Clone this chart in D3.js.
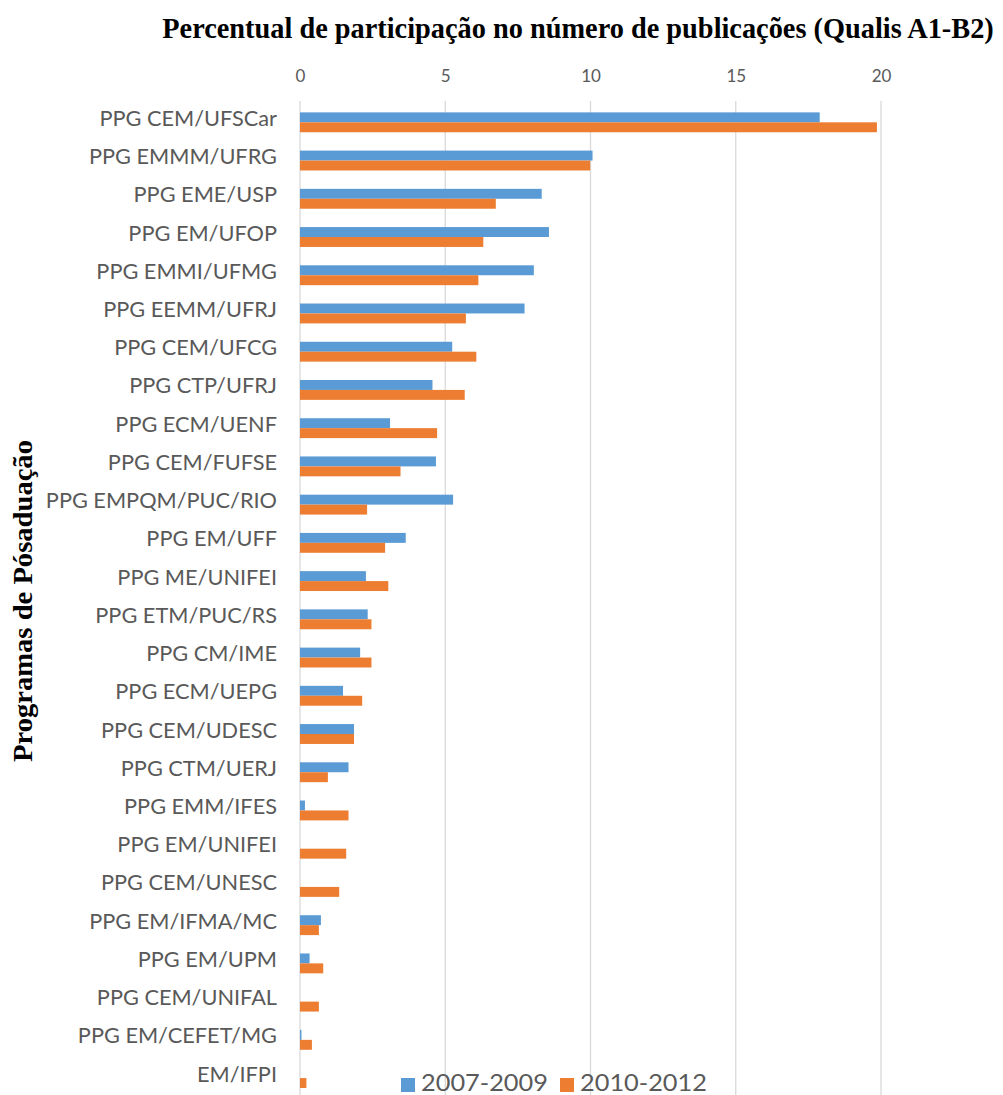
<!DOCTYPE html>
<html>
<head>
<meta charset="utf-8">
<script src="https://cdn.jsdelivr.net/npm/d3@7"></script>
<style>
  html, body { margin: 0; padding: 0; background: #ffffff; }
  svg { display: block; }
</style>
</head>
<body>
<script>
const categories = [
  "PPG CEM/UFSCar", "PPG EMMM/UFRG", "PPG EME/USP", "PPG EM/UFOP", "PPG EMMI/UFMG",
  "PPG EEMM/UFRJ", "PPG CEM/UFCG", "PPG CTP/UFRJ", "PPG ECM/UENF", "PPG CEM/FUFSE",
  "PPG EMPQM/PUC/RIO", "PPG EM/UFF", "PPG ME/UNIFEI", "PPG ETM/PUC/RS", "PPG CM/IME",
  "PPG ECM/UEPG", "PPG CEM/UDESC", "PPG CTM/UERJ", "PPG EMM/IFES", "PPG EM/UNIFEI",
  "PPG CEM/UNESC", "PPG EM/IFMA/MC", "PPG EM/UPM", "PPG CEM/UNIFAL", "PPG EM/CEFET/MG",
  "EM/IFPI"
];
const series2007_2009 = [
  17.89, 10.07, 8.32, 8.57, 8.05,
  7.73, 5.24, 4.56, 3.10, 4.68,
  5.27, 3.64, 2.27, 2.33, 2.07,
  1.48, 1.86, 1.67, 0.17, 0,
  0, 0.72, 0.33, 0, 0.05,
  0
];
const series2010_2012 = [
  19.86, 9.99, 6.74, 6.31, 6.14,
  5.71, 6.07, 5.67, 4.72, 3.46,
  2.31, 2.93, 3.04, 2.46, 2.46,
  2.14, 1.86, 0.96, 1.67, 1.59,
  1.35, 0.65, 0.80, 0.65, 0.41,
  0.22
];
const seriesNames = ["2007-2009", "2010-2012"];
const xTicks = [0, 5, 10, 15, 20];
const titleText = "Percentual de participação no número de publicações (Qualis A1-B2)";
const yTitleText = "Programas de Pósaduação";

const W = 1003, H = 1095;
const colors = ["#5b9bd5", "#ed7d31"];

const svg = d3.select("body").append("svg").attr("width", W).attr("height", H);

const x = d3.scaleLinear().domain([0, 20]).range([300, 881]);
const y = d3.scaleBand().domain(categories).range([103.2, 1097.2]).paddingInner(0.48).paddingOuter(0.24);
const ySub = d3.scaleBand().domain(seriesNames).range([0, y.bandwidth()]);

// gridlines
svg.append("g").selectAll("line").data(xTicks).join("line")
  .attr("x1", d => x(d)).attr("x2", d => x(d))
  .attr("y1", 101).attr("y2", H)
  .attr("stroke", "#d9d9d9").attr("stroke-width", 1.3);

// top axis tick labels
const axis = d3.axisTop(x).tickValues(xTicks).tickSize(0).tickPadding(0);
const ag = svg.append("g").attr("transform", "translate(0,82)").call(axis);
ag.select(".domain").remove();
ag.selectAll("text").attr("fill", "#595959").attr("font-family", "Lato, 'Open Sans', sans-serif")
  .attr("font-size", 17);

// bars
const rows = categories.map((c, i) => ({ c, vals: [series2007_2009[i], series2010_2012[i]] }));
const rg = svg.append("g").selectAll("g").data(rows).join("g")
  .attr("transform", d => `translate(0,${y(d.c)})`);
rg.selectAll("rect").data(d => d.vals.map((v, k) => ({ v, k })))
  .join("rect")
  .attr("x", x(0))
  .attr("y", d => ySub(seriesNames[d.k]))
  .attr("width", d => x(d.v) - x(0))
  .attr("height", ySub.bandwidth())
  .attr("fill", d => colors[d.k]);

// category labels
const yAxis = d3.axisLeft(y).tickSize(0).tickPadding(23);
const yg = svg.append("g").attr("transform", `translate(${x(0)},-3)`).call(yAxis);
yg.select(".domain").remove();
yg.selectAll("text").attr("fill", "#595959").attr("font-family", "Lato, 'Open Sans', sans-serif")
  .attr("font-size", 20.5)
  .each(function () {
    const w = this.getComputedTextLength();
    d3.select(this).attr("textLength", w * 1.06).attr("lengthAdjust", "spacingAndGlyphs");
  });

// helper: horizontally squeezed text via transform
function squeezed(parent, tx, ty, rot, targetW, size, family, weight, fill, str, anchor) {
  const g = parent.append("g");
  const t = g.append("text").attr("x", 0).attr("y", 0).attr("text-anchor", anchor)
    .attr("font-family", family).attr("font-weight", weight)
    .attr("font-size", size).attr("fill", fill).text(str);
  const w = t.node().getComputedTextLength();
  g.attr("transform", `translate(${tx},${ty}) rotate(${rot}) scale(${targetW / w},1)`);
  return g;
}

// title
squeezed(svg, 578, 38, 0, 832, 29, "'Liberation Serif', 'DejaVu Serif', serif", "bold", "#000", titleText, "middle");

// y-axis title
squeezed(svg, 32, 601, -90, 322, 28, "'Liberation Serif', 'DejaVu Serif', serif", "bold", "#000", yTitleText, "middle");

// legend
const legendX = [401, 560];
const lg = svg.append("g");
seriesNames.forEach((name, i) => {
  lg.append("rect").attr("x", legendX[i]).attr("y", 1078).attr("width", 14).attr("height", 14)
    .attr("fill", colors[i]);
  squeezed(lg, legendX[i] + 20, 1091, 0, 127, 23, "Lato, 'Open Sans', sans-serif", "normal", "#595959", name, "start");
});
</script>
</body>
</html>
